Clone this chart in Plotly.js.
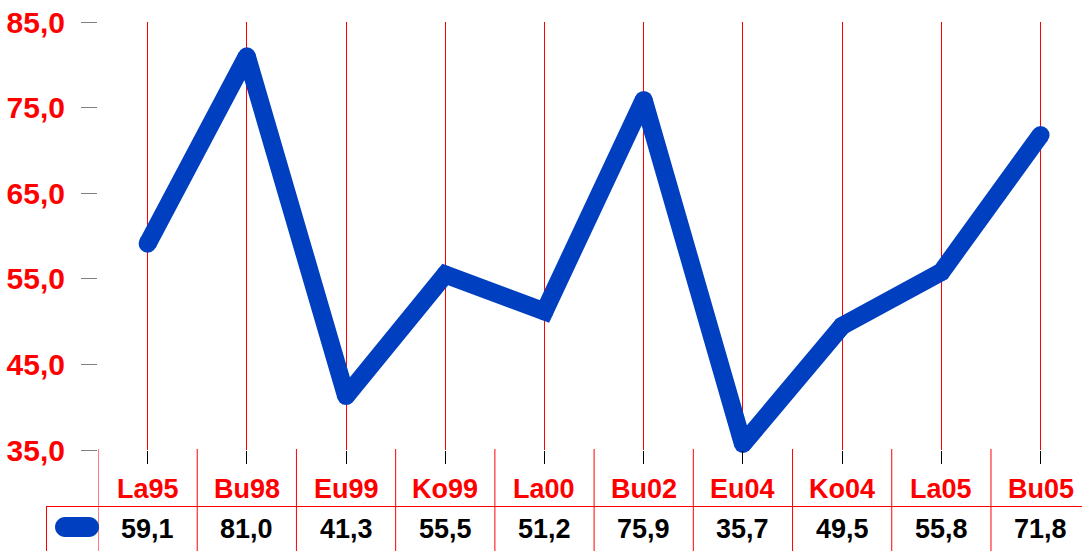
<!DOCTYPE html>
<html>
<head>
<meta charset="utf-8">
<script src="https://cdn.plot.ly/plotly-3.0.1.min.js"></script>
<style>
html,body{margin:0;padding:0;background:#fff;}
#chart{width:1082px;height:551px;}
</style>
</head>
<body>
<div id="chart"></div>
<script>
var categories = ["La95","Bu98","Eu99","Ko99","La00","Bu02","Eu04","Ko04","La05","Bu05"];
var values = [59.1, 81.0, 41.3, 55.5, 51.2, 75.9, 35.7, 49.5, 55.8, 71.8];
var yTicks = [35, 45, 55, 65, 75, 85];

var W = 1082, H = 551;
var mL = 98, mR = 0, mT = 22, mB = 101;
var plotH = H - mT - mB;
var plotW = W - mL - mR;
function py(px){ return (H - mB - px) / plotH; }   // pixel y -> paper y
function pxp(px){ return (px - mL) / plotW; }      // pixel x -> paper x

var blue = "#0040C0";
var red = "#FF0000";
var xIdx = categories.map(function(c,i){return i;});

var trace = {
  x: xIdx,
  y: values,
  type: "scatter",
  mode: "lines+markers",
  line: {color: blue, width: 18},
  marker: {color: blue, size: 18, line: {width: 0}},
  cliponaxis: false,
  hoverinfo: "skip",
  showlegend: false
};

var annotations = [];
var shapes = [];
categories.forEach(function(c, i){
  annotations.push({
    x: i, xref: "x", y: py(489), yref: "paper",
    text: c, showarrow: false, xanchor: "center", yanchor: "middle",
    font: {family: "Liberation Sans, Arial, sans-serif", size: 27, color: red, weight: "bold"}
  });
  annotations.push({
    x: i, xref: "x", y: py(529), yref: "paper",
    text: values[i].toFixed(1).replace(".", ","), showarrow: false, xanchor: "center", yanchor: "middle",
    font: {family: "Liberation Sans, Arial, sans-serif", size: 27, color: "#000", weight: "bold"}
  });
});
// table vertical separators
for (var k = -1; k < categories.length; k++) {
  shapes.push({type: "line", xref: "x", yref: "paper", x0: k + 0.5, x1: k + 0.5,
    y0: py(449), y1: py(552), line: {color: red, width: 1}});
}
// table horizontal line
shapes.push({type: "line", xref: "paper", yref: "paper", x0: pxp(46), x1: 1.01,
  y0: py(506.5), y1: py(506.5), line: {color: red, width: 1}});
// table left border
shapes.push({type: "line", xref: "paper", yref: "paper", x0: pxp(46.5), x1: pxp(46.5),
  y0: py(506.5), y1: py(552), line: {color: red, width: 1}});
// legend swatch (stadium shape)
shapes.push({type: "path", xref: "paper", yref: "paper", xsizemode: "pixel", ysizemode: "pixel",
  xanchor: pxp(77), yanchor: py(527),
  path: "M -12,-10 H 12 C 17.5,-10 22,-5.5 22,0 C 22,5.5 17.5,10 12,10 H -12 C -17.5,10 -22,5.5 -22,0 C -22,-5.5 -17.5,-10 -12,-10 Z",
  fillcolor: blue, line: {width: 0}});

var layout = {
  width: W, height: H,
  margin: {l: mL, r: mR, t: mT, b: mB, pad: 0},
  paper_bgcolor: "#fff", plot_bgcolor: "#fff",
  separators: ",.",
  showlegend: false,
  xaxis: {
    range: [-0.5, -0.5 + plotW / 99.22],
    tickvals: xIdx,
    showticklabels: false,
    ticks: "outside", ticklen: 13, tickcolor: "#000", tickwidth: 1,
    showgrid: true, gridcolor: red, gridwidth: 1,
    zeroline: false, showline: false, fixedrange: true
  },
  yaxis: {
    range: [35, 85],
    tickvals: yTicks,
    tickformat: ".1f",
    ticks: "outside", ticklen: 16, tickcolor: "#808080", tickwidth: 1,
    ticklabelstandoff: 10,
    tickfont: {family: "Liberation Sans, Arial, sans-serif", size: 30, color: red, weight: "bold"},
    showgrid: false, zeroline: false, showline: false, fixedrange: true
  },
  annotations: annotations,
  shapes: shapes
};

Plotly.newPlot("chart", [trace], layout, {displayModeBar: false, staticPlot: true});
</script>
</body>
</html>
